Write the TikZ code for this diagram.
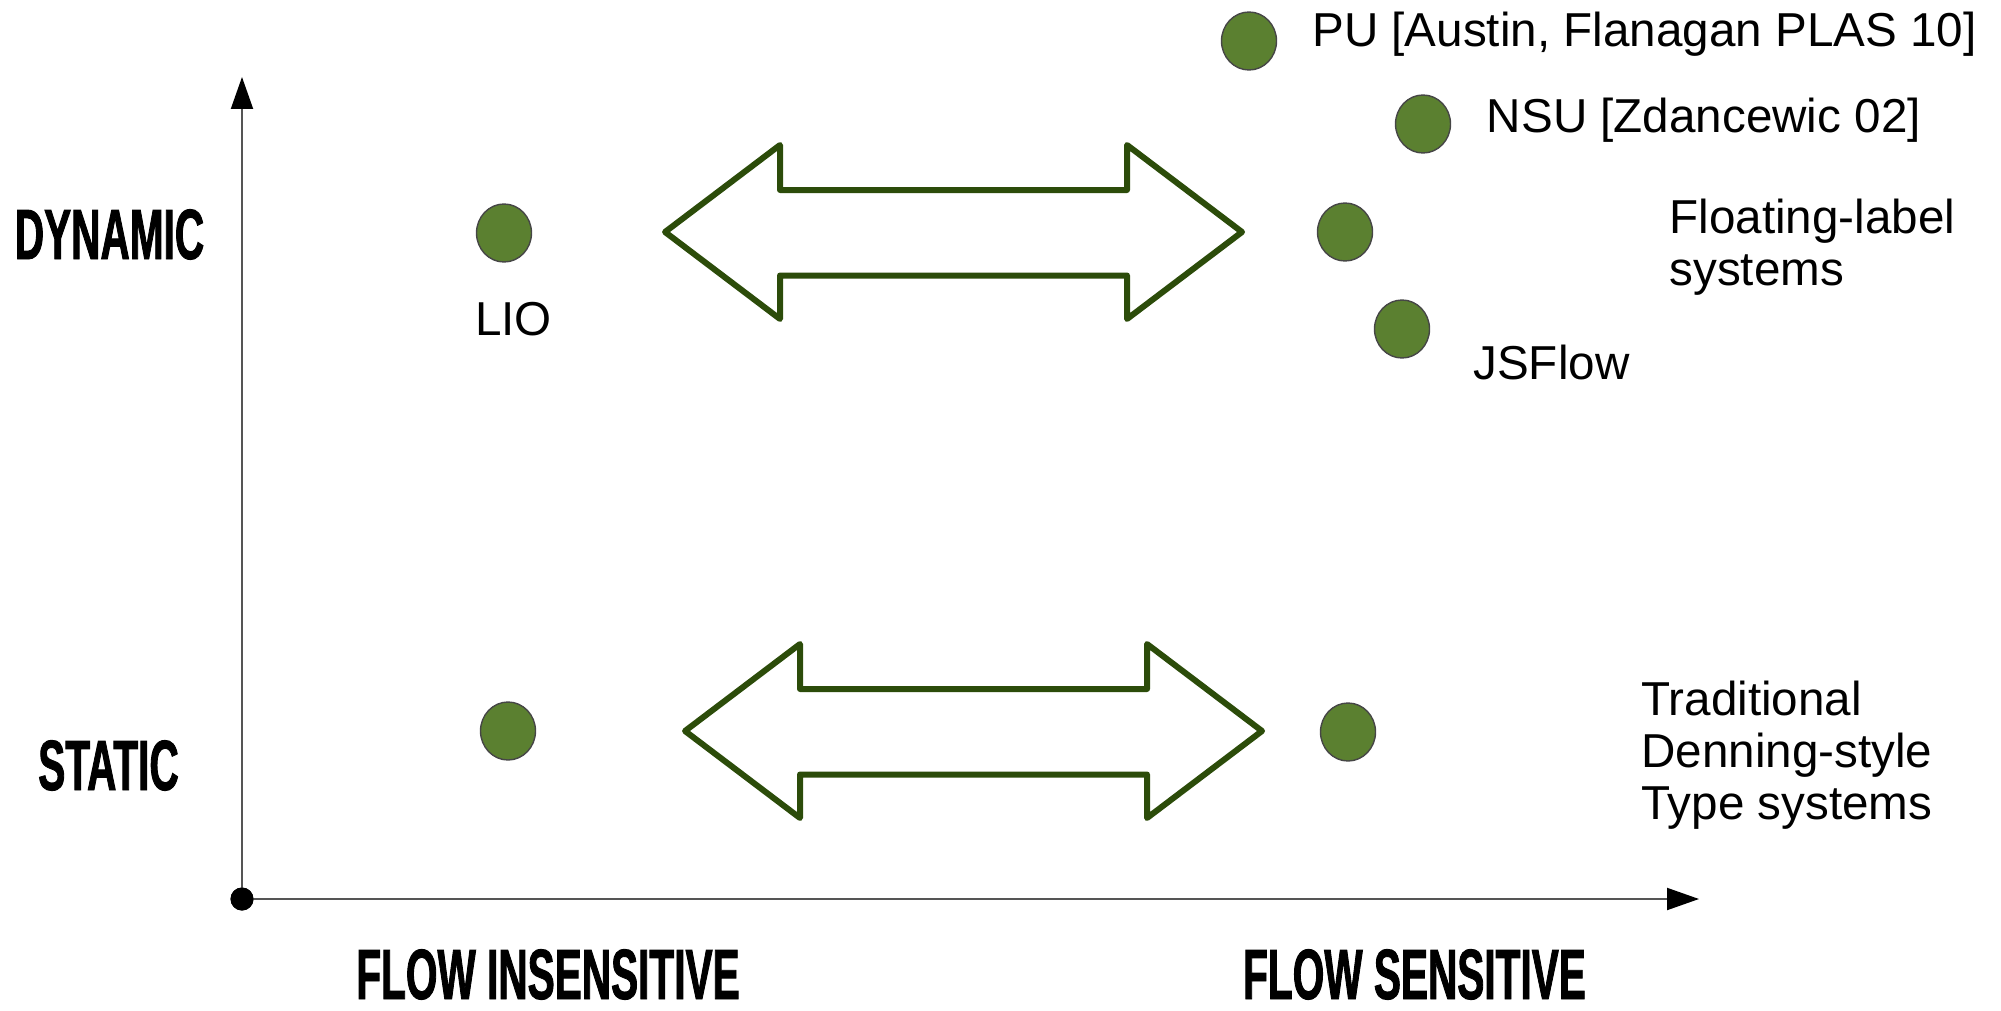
\documentclass[tikz,border=0pt]{standalone}
\usepackage{fontspec}
\setmainfont{Liberation Sans}
\newfontfamily\headfont[FakeStretch=0.57,FakeBold=1.2]{Liberation Sans Bold}
\usetikzlibrary{arrows.meta,shapes.geometric}
\definecolor{arrowgreen}{RGB}{44,76,10}
\definecolor{dotgreen}{RGB}{91,128,48}
\definecolor{dotrim}{RGB}{70,70,70}
\definecolor{axisgray}{RGB}{85,85,85}
\tikzset{
  axisline/.style={draw=axisgray, line width=1pt,
    -{Triangle[length=16pt,width=11pt,black]}},
  sysdot/.style={ellipse, draw=dotrim, line width=0.7pt, fill=dotgreen,
    minimum width=27.5pt, minimum height=29pt, inner sep=0pt},
  heading/.style={inner sep=0pt, anchor=base,
    font=\headfont\fontsize{35.6}{40}\selectfont},
  label/.style={inner sep=0pt, anchor=base west, align=left,
    font=\fontsize{23.8}{26}\selectfont},
  dblarrow/.style={draw=arrowgreen, line width=3pt, line join=round, fill=white}
}
\begin{document}
\begin{tikzpicture}[x=0.5pt, y=-0.5pt]
  \useasboundingbox (0,0) rectangle (2001,1011);

  % axes
  \node[circle, fill=black, inner sep=0pt, minimum size=11.5pt] (origin) at (242,899) {};
  \coordinate (ytop) at (242,77);
  \coordinate (xend) at (1699,899);
  \draw[axisline] (origin.center) -- (ytop);
  \draw[axisline] (origin.center) -- (xend);
  \node[circle, fill=black, inner sep=0pt, minimum size=11.5pt] at (origin) {};

  % axis headings
  \node[heading] (dyn) at (109.5,259) {DYNAMIC};
  \node[heading] (sta) at (108.5,790) {STATIC};
  \node[heading] (fins) at (548,999) {FLOW INSENSITIVE};
  \node[heading] (fsen) at (1414.5,999) {FLOW SENSITIVE};

  % two-headed arrows between the columns
  \draw[dblarrow] (665,232) -- ++(115,-87) -- ++(0,45) -- ++(347,0) -- ++(0,-45)
    -- ++(115,87) -- ++(-115,87) -- ++(0,-43.5) -- ++(-347,0) -- ++(0,43.5) -- cycle;
  \draw[dblarrow] (685,731) -- ++(115,-87) -- ++(0,45) -- ++(347,0) -- ++(0,-45)
    -- ++(115,87) -- ++(-115,87) -- ++(0,-43.5) -- ++(-347,0) -- ++(0,43.5) -- cycle;

  % systems
  \node[sysdot] (lio) at (504,233) {};
  \node[sysdot] (stl) at (508,731) {};
  \node[sysdot] (pu) at (1249,41) {};
  \node[sysdot] (nsu) at (1423,124) {};
  \node[sysdot] (flt) at (1345,232) {};
  \node[sysdot] (jsf) at (1402,329) {};
  \node[sysdot] (str) at (1348,732) {};

  % labels (multi-line labels are placed by the baseline of their last line)
  \node[label] (liot) at (474.7,335.6) {LIO};
  \node[label] (put) at (1312,47) {PU [Austin, Flanagan PLAS 10]};
  \node[label] (nsut) at (1486.5,132.7) {NSU [Zdancewic 02]};
  \node[label] (fltt) at (1669,285) {Floating-label\\systems};
  \node[label] (jsft) at (1473,379.5) {JSFlow};
  \node[label] (strt) at (1641,819) {Traditional\\Denning-style\\Type systems};
\end{tikzpicture}
\end{document}
